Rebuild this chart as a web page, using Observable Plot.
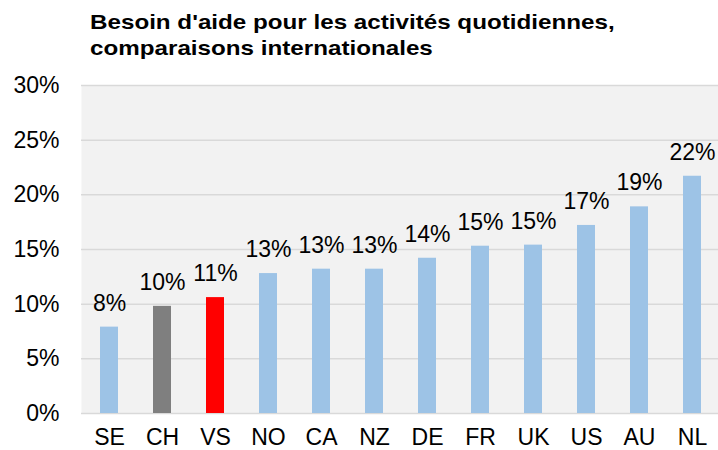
<!DOCTYPE html>
<html>
<head>
<meta charset="utf-8">
<script src="https://cdn.jsdelivr.net/npm/d3@7"></script>
<script src="https://cdn.jsdelivr.net/npm/@observablehq/plot@0.6"></script>
<style>
  html, body { margin: 0; padding: 0; background: #fff; }
  #wrap { position: relative; width: 718px; height: 450px; overflow: hidden; font-family: "Liberation Sans", Arial, sans-serif; }
  #title { position: absolute; left: 90px; top: 9px; font-size: 20.5px; line-height: 26px; font-weight: bold; color: #000; z-index: 2; white-space: nowrap; transform: scaleX(1.18); transform-origin: 0 0; }
  #chart { position: absolute; left: 0; top: 0; }
</style>
</head>
<body>
<div id="wrap">
  <div id="title">Besoin d'aide pour les activités quotidiennes,<br>comparaisons internationales</div>
  <div id="chart"></div>
</div>
<script>
const countries = ["SE", "CH", "VS", "NO", "CA", "NZ", "DE", "FR", "UK", "US", "AU", "NL"];
const values = [7.9, 9.8, 10.6, 12.8, 13.2, 13.2, 14.2, 15.3, 15.4, 17.2, 18.9, 21.7];
const yTicks = [0, 5, 10, 15, 20, 25, 30];

const baseColor = "#9dc3e6";
const highlight = { CH: "#7f7f7f", VS: "#ff0000" };

const data = countries.map((c, i) => ({ country: c, value: values[i] }));

const chart = Plot.plot({
  width: 718,
  height: 450,
  marginTop: 85,
  marginBottom: 37,
  marginLeft: 81,
  marginRight: 0,
  style: { fontFamily: "'Liberation Sans', Arial, sans-serif", fontSize: "23px", color: "#000", background: "transparent" },
  x: { domain: countries, range: [81, 721], paddingInner: 0.66, paddingOuter: 0.33, label: null },
  y: { domain: [0, 30], label: null },
  color: { type: "identity" },
  marks: [
    Plot.frame({ fill: "#f2f2f2", stroke: null }),
    Plot.gridY(yTicks, { stroke: "#d9d9d9", strokeWidth: 1.5, strokeOpacity: 1 }),
    Plot.barY(data, { x: "country", y: "value", fill: d => highlight[d.country] || baseColor }),
    Plot.text(data, { x: "country", y: "value", text: d => `${Math.round(d.value)}%`, lineAnchor: "bottom", dy: -16.5, fontSize: 23, fill: "#000" }),
    Plot.axisY(yTicks, { tickSize: 0, tickPadding: 22, tickFormat: d => d + "%", fontSize: 23, label: null }),
    Plot.axisX({ tickSize: 0, tickPadding: 15.5, fontSize: 23, label: null })
  ]
});
document.getElementById("chart").appendChild(chart);
</script>
</body>
</html>
